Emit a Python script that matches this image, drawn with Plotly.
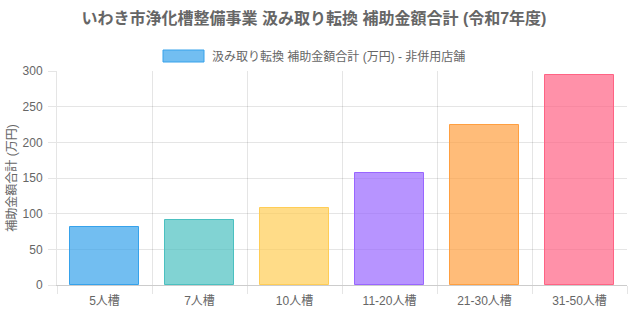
import plotly.graph_objects as go

categories = ["5人槽", "7人槽", "10人槽", "11-20人槽", "21-30人槽", "31-50人槽"]
values = [81, 91, 108, 157, 224, 294]
fill_colors = ["rgba(54,162,235,0.7)", "rgba(75,192,192,0.7)", "rgba(255,205,86,0.7)",
               "rgba(153,102,255,0.7)", "rgba(255,159,64,0.7)", "rgba(255,99,132,0.7)"]
line_colors = ["rgb(54,162,235)", "rgb(75,192,192)", "rgb(255,205,86)",
               "rgb(153,102,255)", "rgb(255,159,64)", "rgb(255,99,132)"]
y_ticks = [0, 50, 100, 150, 200, 250, 300]
title_text = "いわき市浄化槽整備事業 汲み取り転換 補助金額合計 (令和7年度)"
series_name = "汲み取り転換 補助金額合計 (万円) - 非併用店舗"
y_title = "補助金額合計 (万円)"

FONT = "Liberation Sans, Arial, Noto Sans CJK JP, sans-serif"
GRID = "rgba(0,0,0,0.1)"
TXT = "#666666"

fig = go.Figure()
fig.add_trace(go.Bar(
    x=categories, y=values, name=series_name, width=0.72,
    marker=dict(color=fill_colors, line=dict(color=line_colors, width=1)),
    showlegend=False,
))

fig.update_layout(
    width=628, height=314,
    margin=dict(l=57, r=1, t=71, b=29),
    paper_bgcolor="white", plot_bgcolor="white",
    font=dict(family=FONT, size=12, color=TXT),
    title=dict(text="<b>" + title_text + "</b>", x=0.5, xanchor="center",
               y=1 - 18 / 314, yanchor="middle", yref="container",
               font=dict(size=16, color=TXT, family=FONT)),
    bargap=0,
)
fig.update_xaxes(
    type="category", tickson="boundaries", showgrid=True, gridcolor=GRID, gridwidth=1,
    ticks="outside", ticklen=8, tickcolor=GRID, showline=True,
    linecolor="rgba(0,0,0,0.2)", linewidth=1, range=[-0.5, 5.5],
    tickfont=dict(size=12, color=TXT), zeroline=False, ticklabelstandoff=5,
)
fig.update_yaxes(
    range=[0, 300], tickvals=y_ticks, showgrid=True, gridcolor=GRID, gridwidth=1,
    ticks="outside", ticklen=8, tickcolor=GRID, showline=True, linecolor=GRID,
    zeroline=False, tickfont=dict(size=12, color=TXT), ticklabelstandoff=3,
    title=dict(text=y_title, font=dict(size=12, color=TXT), standoff=3),
)

# legend drawn as swatch + label
fig.add_shape(type="rect", xref="paper", yref="paper",
              x0=(163 - 57) / 570, x1=(204 - 57) / 570,
              y0=(285 - 62) / 214, y1=(285 - 50) / 214,
              fillcolor=fill_colors[0], line=dict(color=line_colors[0], width=1))
fig.add_annotation(xref="paper", yref="paper", x=(210 - 57) / 570, y=(285 - 56) / 214,
                   xanchor="left", yanchor="middle", text=series_name, showarrow=False,
                   font=dict(size=12, color=TXT, family=FONT))

fig.write_html("out.html")
